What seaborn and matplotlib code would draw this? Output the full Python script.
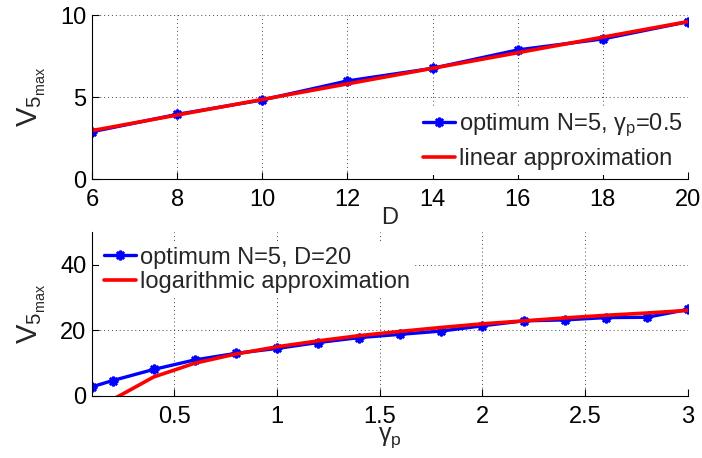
import matplotlib
matplotlib.use("Agg")
import matplotlib.pyplot as plt
import numpy as np
import pandas as pd
import seaborn as sns
from matplotlib.ticker import FormatStrFormatter

# ---- data ----
D = [6, 8, 10, 12, 14, 16, 18, 20]
v_opt_D = [2.88, 3.94, 4.82, 5.98, 6.75, 7.87, 8.54, 9.59]
v_lin_D = [2.95, 3.90, 4.85, 5.80, 6.75, 7.70, 8.65, 9.60]

gamma = [0.1, 0.2, 0.4, 0.6, 0.8, 1.0, 1.2, 1.4, 1.6, 1.8, 2.0, 2.2, 2.4, 2.6, 2.8, 3.0]
v_opt_g = [2.8, 4.7, 8.1, 11.0, 13.0, 14.5, 16.3, 17.8, 18.8, 19.8, 21.4, 22.9, 23.2, 23.9, 24.0, 26.4]
v_log_g = [-8.0, -1.1, 5.8, 10.0, 12.8, 15.0, 16.8, 18.4, 19.7, 20.9, 22.0, 22.9, 23.8, 24.6, 25.3, 26.1]

top_xticks = [6, 8, 10, 12, 14, 16, 18, 20]
top_yticks = [0, 5, 10]
bot_xticks = [0.5, 1, 1.5, 2, 2.5, 3]
bot_yticks = [0, 20, 40]

lab_opt_D = r"optimum N=5, $\mathregular{\gamma_p}$=0.5"
lab_lin_D = "linear approximation"
lab_opt_g = "optimum N=5, D=20"
lab_log_g = "logarithmic approximation"

sns.set_style("white")
plt.rcParams["font.family"] = ["Liberation Sans", "DejaVu Sans"]
plt.rcParams["mathtext.fontset"] = "custom"
plt.rcParams["mathtext.rm"] = "Liberation Sans"
plt.rcParams["mathtext.it"] = "Liberation Sans:italic"
FS = 17

df_top = pd.DataFrame({"D": D, "opt": v_opt_D, "lin": v_lin_D})
df_bot = pd.DataFrame({"g": gamma, "opt": v_opt_g, "log": v_log_g})

fig = plt.figure(figsize=(7.02, 4.58), dpi=100)
ax1 = fig.add_axes([92 / 702, 1 - 179 / 458, 596 / 702, 164 / 458])
ax2 = fig.add_axes([92 / 702, 1 - 396 / 458, 596 / 702, 164 / 458])

BLUE = "#0000ff"
RED = "#ff0000"
STAR = (8, 2, 0)

sns.lineplot(data=df_top, x="D", y="opt", ax=ax1, color=BLUE, lw=2.4,
             marker=STAR, markersize=7, markeredgewidth=1.8, markeredgecolor=BLUE,
             label=lab_opt_D, sort=False)
sns.lineplot(data=df_top, x="D", y="lin", ax=ax1, color=RED, lw=2.6,
             label=lab_lin_D, sort=False)

sns.lineplot(data=df_bot, x="g", y="opt", ax=ax2, color=BLUE, lw=2.4,
             marker=STAR, markersize=7, markeredgewidth=1.8, markeredgecolor=BLUE,
             label=lab_opt_g, sort=False)
sns.lineplot(data=df_bot, x="g", y="log", ax=ax2, color=RED, lw=2.6,
             label=lab_log_g, sort=False)

ax1.set_xlim(6, 20)
ax1.set_ylim(0, 10)
ax1.set_xticks(top_xticks)
ax1.set_yticks(top_yticks)
ax2.set_xlim(0.1, 3)
ax2.set_ylim(0, 50)
ax2.set_xticks(bot_xticks)
ax2.set_yticks(bot_yticks)
ax2.xaxis.set_major_formatter(FormatStrFormatter("%g"))

ylab = r"$\mathregular{V_{5_{max}}}$"
for ax in (ax1, ax2):
    ax.set_axisbelow(True)
    ax.grid(True, linestyle=(0, (1, 3)), color="#444444", lw=0.7)
    for s in ("top", "right"):
        ax.spines[s].set_visible(False)
    for s in ("left", "bottom"):
        ax.spines[s].set_color("black")
        ax.spines[s].set_linewidth(0.8)
    ax.tick_params(direction="in", length=5, width=0.8, labelsize=FS,
                   bottom=True, left=True, colors="black")
    ax.tick_params(axis="x", pad=7.5)
    ax.tick_params(axis="y", pad=4)
    ax.set_ylabel(ylab, fontsize=21, labelpad=9)

ax1.set_xlabel("D", fontsize=FS, labelpad=-3.5)
ax2.set_xlabel(r"$\mathregular{\gamma_p}$", fontsize=18, labelpad=-2)

leg_kw = dict(fontsize=FS, frameon=True, facecolor="white", edgecolor="none",
              framealpha=1.0, fancybox=False, handlelength=1.35,
              handletextpad=0.2, borderpad=0.2, borderaxespad=0.0)
ax1.legend(loc="upper left", bbox_to_anchor=(0.547, 0.44), labelspacing=0.4, **leg_kw)
ax2.legend(loc="upper left", bbox_to_anchor=(0.012, 0.94), labelspacing=0.1, **leg_kw)

fig.savefig("out.png", dpi=100)
